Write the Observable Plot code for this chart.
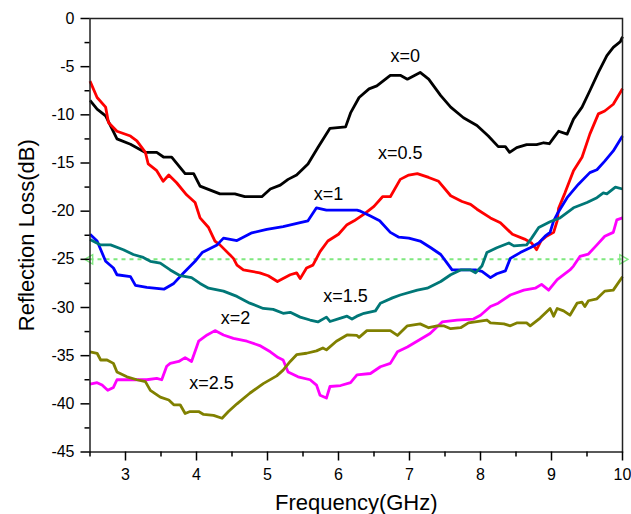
<!DOCTYPE html>
<html>
<head>
<meta charset="utf-8">
<script src="https://cdn.jsdelivr.net/npm/d3@7"></script>
<script src="https://cdn.jsdelivr.net/npm/@observablehq/plot@0.6"></script>
<style>
  html, body { margin: 0; padding: 0; background: #fff; }
  #chart svg { display: block; }
</style>
</head>
<body>
<div id="chart"></div>
<script>
// ---- data (frequency GHz, reflection loss dB) ----
const seriesNames = ["x=0", "x=0.5", "x=1", "x=1.5", "x=2", "x=2.5"];
const seriesColors = ["#000000", "#ff0000", "#0000ff", "#007777", "#ff00ff", "#808000"];

const curveX0 = [[2.50,-8.5],[2.60,-9.4],[2.72,-10.1],[2.88,-12.5],[3.07,-13.05],[3.28,-13.9],[3.44,-13.9],[3.54,-14.4],[3.65,-14.4],[3.84,-16.1],[3.96,-16.1],[4.05,-17.4],[4.33,-18.2],[4.54,-18.2],[4.68,-18.5],[4.92,-18.5],[5.04,-17.7],[5.18,-17.3],[5.29,-16.7],[5.41,-16.25],[5.57,-15.1],[5.71,-13.4],[5.88,-11.4],[6.10,-11.25],[6.17,-9.8],[6.29,-8.2],[6.43,-7.3],[6.54,-7.0],[6.73,-5.9],[6.87,-5.9],[6.97,-6.3],[7.15,-5.6],[7.27,-6.3],[7.44,-8.0],[7.58,-9.2],[7.76,-10.3],[7.95,-11.1],[8.11,-12.2],[8.25,-13.3],[8.35,-13.3],[8.41,-13.9],[8.51,-13.4],[8.65,-13.1],[8.79,-13.1],[8.89,-12.9],[8.97,-13.0],[9.03,-12.4],[9.10,-11.7],[9.22,-12.0],[9.31,-10.45],[9.43,-9.2],[9.54,-7.5],[9.66,-5.6],[9.78,-3.85],[9.87,-3.0],[9.97,-2.4],[10.0,-1.9]];

const curveX05 = [[2.50,-6.5],[2.60,-8.2],[2.72,-9.2],[2.76,-10.8],[2.88,-11.7],[3.07,-12.2],[3.16,-12.7],[3.28,-13.9],[3.32,-15.1],[3.44,-15.8],[3.53,-16.9],[3.61,-16.25],[3.72,-17.05],[3.86,-18.3],[3.98,-19.1],[4.05,-20.7],[4.17,-21.7],[4.26,-23.1],[4.33,-23.5],[4.52,-24.9],[4.57,-25.6],[4.66,-26.1],[4.89,-26.4],[5.01,-26.7],[5.14,-27.3],[5.32,-26.6],[5.41,-26.4],[5.46,-27.0],[5.55,-25.9],[5.64,-25.6],[5.74,-24.2],[5.85,-23.1],[6.00,-22.4],[6.12,-21.4],[6.22,-21.0],[6.36,-20.3],[6.50,-19.5],[6.62,-18.5],[6.73,-18.5],[6.87,-16.7],[6.99,-16.25],[7.11,-16.1],[7.27,-16.5],[7.41,-16.9],[7.58,-18.4],[7.74,-19.0],[7.86,-19.3],[7.95,-19.8],[8.14,-20.7],[8.28,-21.2],[8.45,-22.4],[8.62,-22.9],[8.72,-23.3],[8.79,-24.0],[8.85,-23.1],[8.93,-22.6],[9.03,-22.2],[9.08,-21.0],[9.10,-19.7],[9.19,-18.1],[9.31,-15.8],[9.43,-14.4],[9.54,-12.0],[9.66,-9.9],[9.75,-9.6],[9.87,-8.9],[10.0,-7.3]];

const curveX1 = [[2.50,-22.4],[2.60,-23.1],[2.72,-25.2],[2.83,-25.9],[2.88,-26.6],[3.07,-26.8],[3.14,-27.7],[3.30,-27.9],[3.54,-28.1],[3.68,-27.5],[3.82,-26.4],[3.98,-25.2],[4.08,-24.3],[4.29,-23.5],[4.38,-22.8],[4.57,-23.05],[4.78,-22.25],[4.99,-21.9],[5.22,-21.6],[5.46,-21.2],[5.57,-21.0],[5.69,-19.65],[5.83,-19.9],[6.26,-19.9],[6.31,-20.0],[6.45,-20.5],[6.58,-21.0],[6.73,-22.2],[6.85,-22.7],[6.99,-22.8],[7.15,-23.1],[7.30,-23.8],[7.44,-24.5],[7.53,-25.4],[7.60,-26.1],[7.76,-26.1],[7.93,-26.1],[8.02,-26.25],[8.14,-26.9],[8.23,-26.5],[8.35,-26.2],[8.42,-24.9],[8.56,-24.3],[8.70,-23.8],[8.82,-23.3],[8.91,-22.6],[8.98,-22.2],[9.03,-21.0],[9.08,-20.3],[9.22,-18.6],[9.38,-17.2],[9.54,-16.0],[9.64,-15.7],[9.75,-14.8],[9.87,-13.75],[10.0,-12.2]];

const curveX15 = [[2.50,-22.95],[2.65,-23.5],[2.79,-23.5],[2.97,-24.0],[3.11,-24.5],[3.25,-24.8],[3.35,-25.2],[3.49,-25.4],[3.63,-26.1],[3.77,-26.7],[3.93,-26.9],[4.05,-27.5],[4.17,-28.0],[4.38,-28.3],[4.57,-28.85],[4.75,-29.55],[4.94,-30.1],[5.08,-30.2],[5.22,-30.6],[5.32,-30.5],[5.46,-31.0],[5.60,-31.3],[5.71,-31.5],[5.83,-31.0],[5.88,-31.45],[6.03,-31.1],[6.12,-30.9],[6.19,-31.2],[6.26,-30.9],[6.36,-30.6],[6.52,-30.35],[6.59,-29.55],[6.76,-29.0],[6.87,-28.7],[7.11,-28.2],[7.25,-28.0],[7.44,-27.3],[7.58,-26.6],[7.72,-26.1],[7.86,-26.1],[7.93,-26.4],[8.02,-25.7],[8.09,-24.3],[8.23,-23.8],[8.40,-23.3],[8.47,-23.6],[8.65,-23.5],[8.72,-22.8],[8.82,-21.7],[8.98,-21.1],[9.12,-20.7],[9.31,-19.65],[9.50,-19.1],[9.64,-18.6],[9.73,-18.1],[9.78,-18.2],[9.90,-17.5],[10.0,-17.7]];

const curveX2 = [[2.50,-37.95],[2.60,-37.8],[2.67,-38.05],[2.75,-38.6],[2.83,-38.3],[2.88,-37.5],[3.07,-37.5],[3.30,-37.5],[3.44,-37.35],[3.51,-37.5],[3.58,-36.1],[3.63,-35.8],[3.75,-35.6],[3.84,-35.2],[3.93,-35.6],[4.03,-33.5],[4.15,-32.85],[4.26,-32.4],[4.38,-32.85],[4.52,-33.2],[4.71,-33.5],[4.89,-33.95],[5.04,-34.6],[5.15,-35.2],[5.22,-35.45],[5.29,-36.7],[5.43,-37.2],[5.60,-37.5],[5.69,-38.05],[5.74,-39.1],[5.83,-39.4],[5.88,-38.2],[6.03,-38.1],[6.17,-37.8],[6.26,-37.0],[6.45,-36.85],[6.59,-36.15],[6.73,-35.8],[6.83,-34.6],[6.97,-34.1],[7.13,-33.4],[7.29,-32.7],[7.46,-31.5],[7.67,-31.3],[7.90,-31.2],[8.00,-30.8],[8.14,-29.9],[8.25,-29.55],[8.42,-28.7],[8.61,-28.2],[8.77,-28.0],[8.86,-27.6],[8.96,-28.2],[9.08,-27.1],[9.26,-26.1],[9.31,-25.7],[9.40,-24.7],[9.52,-24.45],[9.64,-23.5],[9.75,-22.6],[9.87,-22.2],[9.92,-20.9],[10.0,-20.7]];

const curveX25 = [[2.50,-34.6],[2.60,-34.75],[2.65,-35.45],[2.74,-35.45],[2.83,-35.8],[2.88,-36.7],[3.02,-37.2],[3.16,-37.5],[3.28,-37.7],[3.35,-38.6],[3.49,-39.3],[3.61,-39.6],[3.68,-40.1],[3.77,-40.1],[3.84,-41.0],[3.91,-40.8],[4.03,-40.8],[4.10,-41.1],[4.24,-41.2],[4.36,-41.5],[4.45,-40.8],[4.57,-40.0],[4.75,-38.9],[4.94,-37.9],[5.13,-37.1],[5.22,-36.5],[5.32,-35.6],[5.41,-34.9],[5.55,-34.75],[5.69,-34.5],[5.78,-34.2],[5.83,-34.4],[5.97,-33.5],[6.12,-32.85],[6.26,-32.9],[6.29,-33.1],[6.40,-32.4],[6.73,-32.4],[6.83,-32.9],[6.97,-31.9],[7.15,-31.7],[7.27,-32.1],[7.39,-31.9],[7.48,-31.9],[7.58,-32.2],[7.72,-32.1],[7.83,-31.6],[8.09,-31.3],[8.14,-31.6],[8.33,-31.7],[8.42,-31.9],[8.51,-31.6],[8.65,-31.6],[8.70,-31.9],[8.84,-31.1],[8.98,-30.1],[9.03,-30.9],[9.08,-30.1],[9.17,-30.35],[9.26,-30.8],[9.36,-29.55],[9.43,-29.45],[9.47,-29.9],[9.52,-29.3],[9.64,-29.1],[9.75,-28.3],[9.87,-28.2],[10.0,-26.8]];

// curve label anchors [frequency, dB]
const labelPos = [[6.94,-3.9],[6.87,-13.94],[5.86,-18.27],[6.10,-28.83],[4.55,-31.14],[4.21,-37.89]];

// reference threshold line
const thresholdDb = [-25];
const xRange = [2.5, 10];

// ticks
const xMajorTicks = [3, 4, 5, 6, 7, 8, 9, 10];
const xMinorTicks = [2.5, 3.5, 4.5, 5.5, 6.5, 7.5, 8.5, 9.5];
const yMajorTicks = [0, -5, -10, -15, -20, -25, -30, -35, -40, -45];
const yMinorTicks = [-2.5, -7.5, -12.5, -17.5, -22.5, -27.5, -32.5, -37.5, -42.5];

// ---- build tables ----
const curves = [curveX0, curveX05, curveX1, curveX15, curveX2, curveX25];
const rows = curves.flatMap((c, i) => c.map(([f, v]) => ({f, v, s: seriesNames[i]})));
const labels = seriesNames.map((s, i) => ({s, f: labelPos[i][0], v: labelPos[i][1]}));
const threshEnds = [
  {f: xRange[0], v: thresholdDb[0], r: -90},
  {f: xRange[1], v: thresholdDb[0], r: 90}
];

const font = "'Liberation Sans', Arial, Helvetica, sans-serif";

const chart = Plot.plot({
  width: 631,
  height: 514,
  marginLeft: 89.5,
  marginRight: 9,
  marginTop: 18,
  marginBottom: 62.5,
  style: {fontFamily: font, background: "#fff", color: "#000"},
  x: {domain: xRange},
  y: {domain: [-45, 0]},
  color: {domain: seriesNames, range: seriesColors},
  marks: [
    // threshold dashed line
    Plot.ruleY(thresholdDb, {x1: xRange[0], x2: xRange[1], stroke: "#7ee87e", strokeWidth: 2, strokeDasharray: "4,4"}),
    Plot.dot(threshEnds, {x: "f", y: "v", symbol: "triangle", rotate: "r", r: 3.5, fill: "none", stroke: "#7ee87e", strokeWidth: 1.3}),
    // curves
    Plot.line(rows, {x: "f", y: "v", z: "s", stroke: "s", strokeWidth: 2.8, strokeLinejoin: "round", strokeLinecap: "butt"}),
    // curve labels
    Plot.text(labels, {x: "f", y: "v", text: "s", fontSize: 18, fill: "#000", textAnchor: "middle", lineAnchor: "middle"}),
    // frame
    Plot.frame({stroke: "#222", strokeWidth: 1.5}),
    // axes
    Plot.axisX({ticks: xMajorTicks, tickSize: 9, tickPadding: 8, fontSize: 16, tickFormat: d => String(d), label: null, strokeWidth: 1.5}),
    Plot.axisX({ticks: xMinorTicks, tickSize: 5, tickFormat: () => "", label: null, strokeWidth: 1.5}),
    Plot.axisY({ticks: yMajorTicks, tickSize: 9, tickPadding: 6.5, fontSize: 16, tickFormat: d => String(d), label: null, strokeWidth: 1.5}),
    Plot.axisY({ticks: yMinorTicks, tickSize: 5, tickFormat: () => "", label: null, strokeWidth: 1.5}),
    // axis titles
    Plot.text(["Frequency(GHz)"], {frameAnchor: "bottom", dy: 50.5, fontSize: 22, fill: "#000", textAnchor: "middle", lineAnchor: "middle"}),
    Plot.text(["Reflection Loss(dB)"], {frameAnchor: "left", dx: -63.5, rotate: -90, fontSize: 22, fill: "#000", textAnchor: "middle", lineAnchor: "middle"})
  ]
});

document.getElementById("chart").appendChild(chart);
</script>
</body>
</html>
